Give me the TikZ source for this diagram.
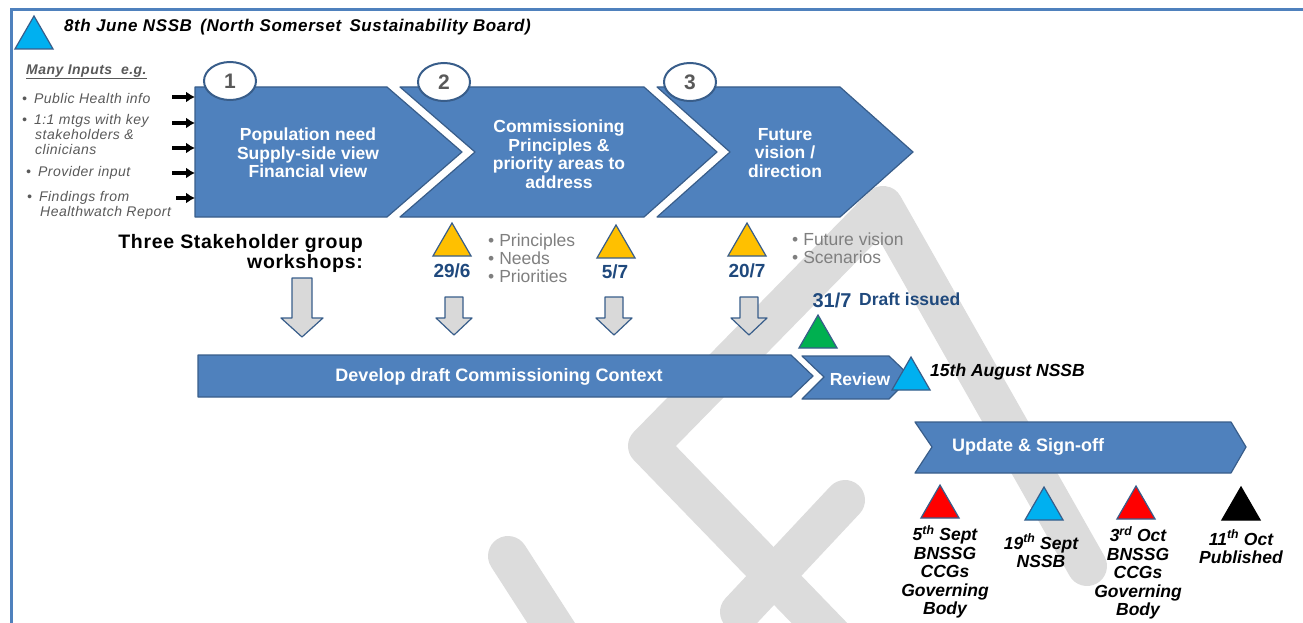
\documentclass[tikz,border=0pt]{standalone}
\usepackage{fontspec}
\setmainfont{Liberation Sans}
\newfontfamily\widefont[LetterSpace=3.5]{Liberation Sans}
\usetikzlibrary{shapes.geometric,arrows.meta}
\definecolor{chevblue}{HTML}{4F81BD}
\definecolor{chevline}{HTML}{385D8A}
\definecolor{datblue}{HTML}{1F497D}
\definecolor{greytxt}{HTML}{7F7F7F}
\definecolor{darkgrey}{HTML}{595959}
\definecolor{arrowfill}{HTML}{D9D9D9}
\definecolor{wmgrey}{HTML}{DCDCDC}
\definecolor{gold}{HTML}{FFC000}
\definecolor{cyanmile}{HTML}{00B0F0}
\definecolor{greenmile}{HTML}{00B050}
\begin{document}
\begin{tikzpicture}[x=1pt,y=-1pt,>={Latex[length=9pt,width=11pt]},
  chev/.style={fill=chevblue,draw=chevline,line width=1.2pt,line join=round},
  chevtxt/.style={text=white,inner sep=0pt,font=\fontsize{17.5}{18.5}\selectfont\bfseries,align=center},
  numcirc/.style={ellipse,draw=chevline,line width=2pt,fill=white,minimum width=52pt,minimum height=38pt,inner sep=0pt,text=darkgrey,font=\fontsize{21}{21}\selectfont\bfseries},
  tri/.style={regular polygon,regular polygon sides=3,minimum size=44pt,inner sep=0pt,draw=chevline,line width=1.2pt},
  datelbl/.style={text=datblue,inner sep=0pt,font=\fontsize{19}{19}\selectfont\bfseries},
  bullets/.style={text=greytxt,inner sep=0pt,font=\fontsize{17.5}{18}\selectfont,align=left,anchor=west},
  inputs/.style={text=darkgrey,inner sep=0pt,font=\widefont\fontsize{14}{15}\selectfont\itshape,align=left,anchor=west},
  inarrow/.style={->,line width=3.5pt},
  downarr/.style={fill=arrowfill,draw=chevline,line width=1.2pt,line join=round},
  mile/.style={inner sep=0pt,font=\fontsize{17.5}{18.5}\selectfont\bfseries\itshape,align=center},
  wm/.style={wmgrey,line width=40pt,line cap=round,line join=round}]
\useasboundingbox (0,0) rectangle (1303,623);

% watermark
\draw[wm] (860,665) -- (648,446) -- (883,206) -- (1087,566);
\draw[wm] (845,500) -- (740,612);
\draw[wm] (508,556) -- (575,660);

% frame
\draw[chevblue,line width=3pt] (11,623) -- (11,10) -- (1303,10);

% title
\node[tri,fill=cyanmile] (t0) at (34,38) {};
\node[anchor=west,inner sep=0pt,font=\widefont\fontsize{17}{18}\selectfont\bfseries\itshape] (title) at (64,27) {8th June NSSB\hspace{3pt} (North Somerset\hspace{3pt} Sustainability Board)};

% inputs
\node[anchor=west,inner sep=0pt,text=darkgrey,font=\widefont\fontsize{14}{15}\selectfont\bfseries\itshape] (many) at (26,72) {\underline{Many Inputs\ \ e.g.}};
\node[inputs] (i1) at (22,98) {•\hspace{7pt}Public Health info};
\node[inputs] (i2) at (22,134) {•\hspace{7pt}1:1 mtgs with key\\\hspace*{13pt}stakeholders \&\\\hspace*{13pt}clinicians};
\node[inputs] (i3) at (26,173) {•\hspace{7pt}Provider input};
\node[inputs] (i4) at (27,205) {•\hspace{7pt}Findings from\\\hspace*{13pt}Healthwatch Report};

% stage chevrons
\coordinate (c1nw) at (195,87);
\draw[chev] (c1nw) -- (387,87) -- (462,152) -- (387,217) -- (195,217) -- cycle;
\draw[chev] (400,87) -- (644,87) -- (717,152) -- (644,217) -- (400,217) -- (475,152) -- cycle;
\draw[chev] (657,87) -- (840,87) -- (913,152) -- (840,217) -- (657,217) -- (730,152) -- cycle;
\node[chevtxt] (pop) at (308,153) {Population need\\Supply-side view\\Financial view};
\node[chevtxt] (prin) at (559,154) {Commissioning\\Principles \&\\priority areas to\\address};
\node[chevtxt] (fut) at (785,153) {Future\\vision /\\direction};
\node[numcirc] (n1) at (230,81) {1};
\node[numcirc] (n2) at (444,82) {2};
\node[numcirc] (n3) at (690,82) {3};

\foreach \x/\y [count=\i] in {172/97,172/123,172/148,172/173,176/198}{
  \coordinate (in\i) at (\x,\y);
  \draw[inarrow] (in\i) -- (in\i -| c1nw);
}

% workshops
\node[anchor=east,align=right,inner sep=0pt,font=\widefont\fontsize{19.5}{20}\selectfont\bfseries] (ws) at (363,253) {Three Stakeholder group\\workshops:};
\node[tri,fill=gold] (g1) at (452,245) {};
\node[tri,fill=gold] (g2) at (616,247) {};
\node[tri,fill=gold] (g3) at (747,245) {};
\node[datelbl] (d1) at (452,271) {29/6};
\node[datelbl] (d2) at (615,272) {5/7};
\node[datelbl] (d3) at (747,271) {20/7};
\node[bullets] (bl1) at (488,258) {•\hspace{5pt}Principles\\•\hspace{5pt}Needs\\•\hspace{5pt}Priorities};
\node[bullets] (bl2) at (792,248) {•\hspace{5pt}Future vision\\•\hspace{5pt}Scenarios};

\foreach \x/\t/\w/\h/\e in {302/278/10/21/337,454/297/9/18/335,614/297/9/18/335,749/297/9/18/335}
  \draw[downarr] (\x-\w,\t) -- (\x+\w,\t) -- (\x+\w,318) -- (\x+\h,318) -- (\x,\e) -- (\x-\h,318) -- (\x-\w,318) -- cycle;

% draft
\node[datelbl,font=\fontsize{20}{20}\selectfont\bfseries] (d4) at (832,300) {31/7};
\node[datelbl,anchor=west,font=\fontsize{17.5}{18}\selectfont\bfseries] (drft) at (859,299) {Draft issued};
\node[tri,fill=greenmile] (gr) at (818,337) {};

% develop + review
\draw[chev] (198,355) -- (791,355) -- (813,376) -- (791,397) -- (198,397) -- cycle;
\node[chevtxt,font=\fontsize{18}{18}\selectfont\bfseries] (dev) at (499,377) {Develop draft Commissioning Context};
\draw[chev] (802,356) -- (889,356) -- (911,377) -- (889,399) -- (802,399) -- (824,377) -- cycle;
\node[chevtxt] (rev) at (860,379) {Review};
\node[tri,fill=cyanmile] (c2) at (911,379) {};
\node[mile,anchor=west] (aug) at (930,372) {15th August NSSB};

% sign-off
\draw[chev] (915,422) -- (1231,422) -- (1246,447) -- (1231,473) -- (915,473) -- (932,447) -- cycle;
\node[chevtxt,anchor=west,font=\fontsize{18}{18}\selectfont\bfseries] (upd) at (952,447) {Update \& Sign-off};

\node[tri,fill=red] (r1) at (940,507) {};
\node[tri,fill=cyanmile] (c3) at (1044,509) {};
\node[tri,fill=red] (r2) at (1136,508) {};
\node[tri,fill=black,draw=black] (bk) at (1241,509) {};
\node[mile] (l1) at (945,572) {5\textsuperscript{th} Sept\\BNSSG\\CCGs\\Governing\\Body};
\node[mile] (l2) at (1041,551) {19\textsuperscript{th} Sept\\NSSB};
\node[mile] (l3) at (1138,573) {3\textsuperscript{rd} Oct\\BNSSG\\CCGs\\Governing\\Body};
\node[mile] (l4) at (1241,547) {11\textsuperscript{th} Oct\\Published};
\end{tikzpicture}
\end{document}
